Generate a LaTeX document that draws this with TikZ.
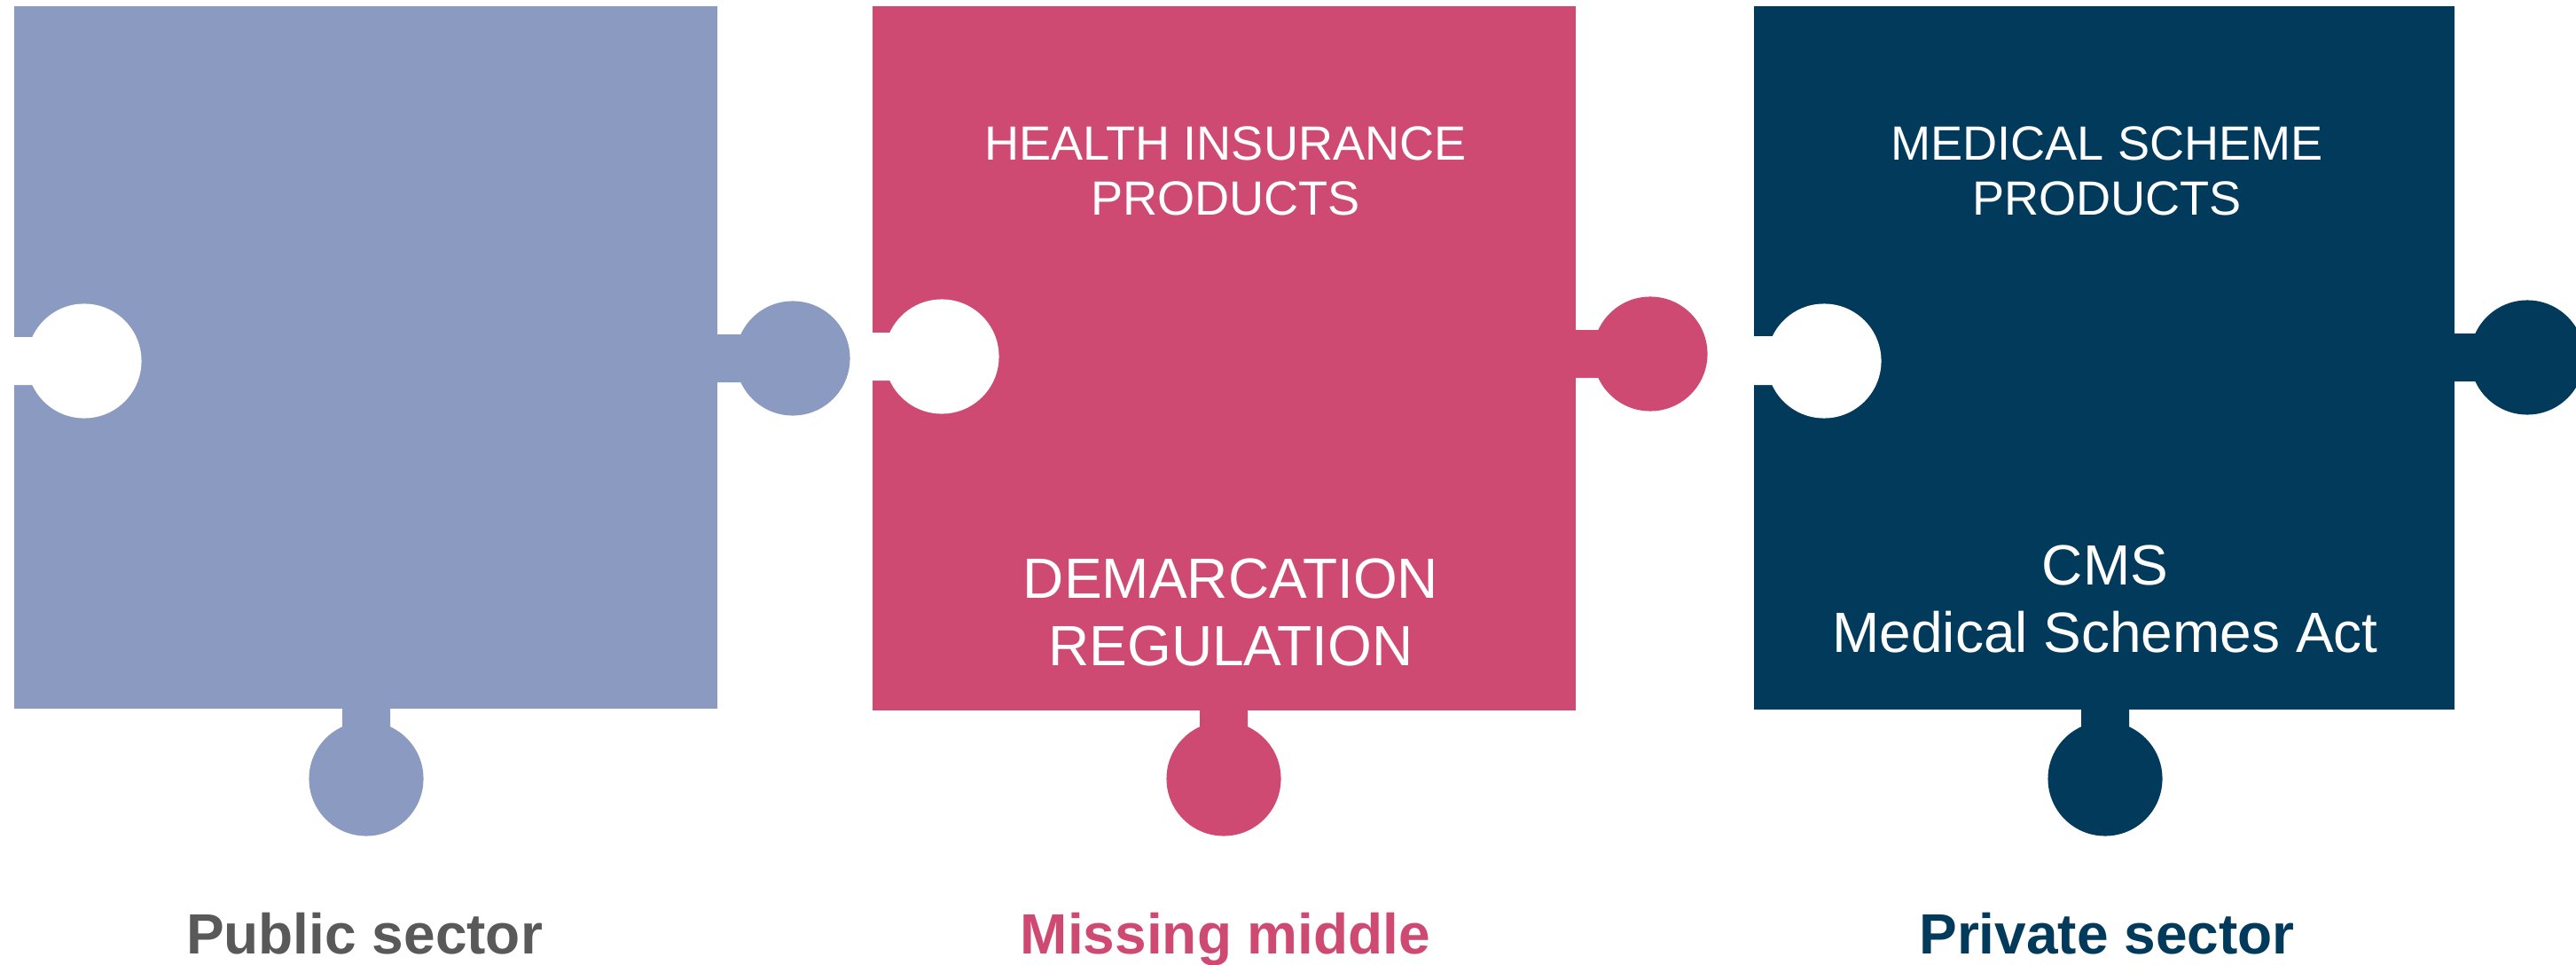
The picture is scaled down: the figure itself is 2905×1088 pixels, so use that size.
\documentclass[tikz,border=0pt]{standalone}
\usepackage{fontspec}
\setmainfont{Liberation Sans}
\usepackage{tikz}
\usetikzlibrary{positioning}
\definecolor{slateblue}{RGB}{138,154,193}
\definecolor{rosepink}{RGB}{207,74,114}
\definecolor{deepnavy}{RGB}{2,58,92}
\definecolor{darkgrey}{RGB}{89,89,89}

\begin{document}
\begin{tikzpicture}[x=0.01cm, y=-0.01cm,
    ptext/.style={text=white, align=center, anchor=base, inner sep=0pt},
    small/.style={font=\fontsize{15.4}{17.9}\selectfont},
    big/.style={font=\fontsize{18.2}{21.6}\selectfont},
    sector/.style={anchor=base, inner sep=0pt, font=\fontsize{18.2}{21.6}\selectfont\bfseries}
]
\useasboundingbox (0,0) rectangle (2905,1088);

% public sector piece
\fill[slateblue] (16,7) rectangle (809,799);
\fill[slateblue] (800,377) rectangle (860,431) (894,404) circle (0.645cm);
\fill[slateblue] (386,790) rectangle (440,850) (413,878) circle (0.645cm);
\fill[white] (0,380) rectangle (60,434) (95,407) circle (0.645cm);

% missing middle piece
\fill[rosepink] (984,7) rectangle (1777,801);
\fill[rosepink] (1770,372) rectangle (1830,426) (1861,399) circle (0.645cm);
\fill[rosepink] (1353,795) rectangle (1407,850) (1380,878) circle (0.645cm);
\fill[white] (978,375) rectangle (1030,429) (1062,402) circle (0.645cm);

% private sector piece
\fill[deepnavy] (1978,7) rectangle (2768,800);
\fill[deepnavy] (2760,376) rectangle (2820,430) (2850,403) circle (0.645cm);
\fill[deepnavy] (2347,795) rectangle (2401,850) (2374,878) circle (0.645cm);
\fill[white] (1972,379) rectangle (2030,434) (2057,407) circle (0.645cm);

% texts on the pieces (base = last line)
\node[ptext, small] (hip) at (1382,243) {HEALTH INSURANCE\\PRODUCTS};
\node[ptext, big]   (dem) at (1388,750) {DEMARCATION\\REGULATION};
\node[ptext, small] (msp) at (2376,243) {MEDICAL SCHEME\\PRODUCTS};
\node[ptext, big]   (cms) at (2374,735) {CMS\\Medical Schemes Act};

% sector labels
\node[sector, text=darkgrey] (pub) at (411,1075)  {Public sector};
\node[sector, text=rosepink] (mid) at (1382,1075) {Missing middle};
\node[sector, text=deepnavy] (pri) at (2376,1075) {Private sector};
\end{tikzpicture}
\end{document}
